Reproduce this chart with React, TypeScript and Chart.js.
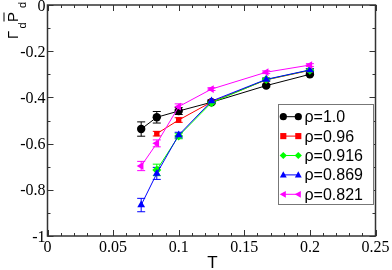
import React, { useEffect, useRef } from 'react';
import { Chart, registerables } from 'chart.js';

Chart.register(...registerables);

// ---- data ----
const temps = [0.0714, 0.0833, 0.1, 0.125, 0.1667, 0.2];

const rho100 = [-0.537, -0.486, -0.459, -0.421, -0.349, -0.3];
const rho100Err = [0.031, 0.025, 0.015, 0.006, 0.006, 0.006];

const rho096 = [null, -0.557, -0.498, -0.42, -0.324, -0.283];
const rho096Err = [0, 0.01, 0.01, 0.006, 0.006, 0.006];

const rho0916 = [null, -0.714, -0.567, -0.423, -0.323, -0.282];
const rho0916Err = [0, 0.025, 0.012, 0.006, 0.006, 0.006];

const rho0869 = [-0.866, -0.729, -0.563, -0.416, -0.322, -0.281];
const rho0869Err = [0.029, 0.026, 0.012, 0.006, 0.006, 0.006];

const rho0821 = [-0.697, -0.599, -0.44, -0.364, -0.291, -0.26];
const rho0821Err = [0.02, 0.015, 0.012, 0.006, 0.006, 0.006];

const seriesLabels = ['ρ=1.0', 'ρ=0.96', 'ρ=0.916', 'ρ=0.869', 'ρ=0.821'];
const seriesColors = ['#000000', '#ff0000', '#00ff00', '#0000ff', '#ff00ff'];
const seriesStyles = ['circle', 'rect', 'rectRot', 'triangle', 'triangle'];
const seriesRotations = [0, 0, 0, 0, -90];

const xTickValues = [0, 0.05, 0.1, 0.15, 0.2, 0.25];
const xTickLabels = ['0', '0.05', '0.1', '0.15', '0.2', '0.25'];
const yTickValues = [0, -0.2, -0.4, -0.6, -0.8, -1];
const yTickLabels = ['0', '-0.2', '-0.4', '-0.6', '-0.8', '-1'];

const allValues = [rho100, rho096, rho0916, rho0869, rho0821];
const allErrors = [rho100Err, rho096Err, rho0916Err, rho0869Err, rho0821Err];

const SERIF = "'Liberation Serif', 'Times New Roman', serif";
const SANS = "'Liberation Sans', Arial, sans-serif";

function drawMarker(ctx: CanvasRenderingContext2D, style: string, rot: number, x: number, y: number, r: number, color: string) {
  ctx.save();
  ctx.translate(x, y);
  ctx.rotate((rot * Math.PI) / 180);
  ctx.fillStyle = color;
  ctx.beginPath();
  if (style === 'circle') {
    ctx.arc(0, 0, r, 0, Math.PI * 2);
  } else if (style === 'rect') {
    ctx.rect(-r * 0.85, -r * 0.85, r * 1.7, r * 1.7);
  } else if (style === 'rectRot') {
    ctx.moveTo(0, -r);
    ctx.lineTo(r, 0);
    ctx.lineTo(0, r);
    ctx.lineTo(-r, 0);
    ctx.closePath();
  } else if (style === 'triangle') {
    ctx.moveTo(0, -r);
    ctx.lineTo(r * 0.95, r * 0.7);
    ctx.lineTo(-r * 0.95, r * 0.7);
    ctx.closePath();
  }
  ctx.fill();
  ctx.restore();
}

const framePlugin = {
  id: 'frame',
  beforeDatasetsDraw(chart: any) {
    const ctx: CanvasRenderingContext2D = chart.ctx;
    const xs = chart.scales.x;
    const ys = chart.scales.y;
    // error bars
    ctx.save();
    ctx.lineWidth = 1;
    allValues.forEach((vals, si) => {
      ctx.strokeStyle = seriesColors[si];
      vals.forEach((v, i) => {
        const e = allErrors[si][i];
        if (v === null || !e) return;
        const px = xs.getPixelForValue(temps[i]);
        const y1 = ys.getPixelForValue((v as number) + e);
        const y2 = ys.getPixelForValue((v as number) - e);
        ctx.beginPath();
        ctx.moveTo(px, y1);
        ctx.lineTo(px, y2);
        ctx.moveTo(px - 4, y1);
        ctx.lineTo(px + 4, y1);
        ctx.moveTo(px - 4, y2);
        ctx.lineTo(px + 4, y2);
        ctx.stroke();
      });
    });
    ctx.restore();
  },
  afterDraw(chart: any) {
    const ctx: CanvasRenderingContext2D = chart.ctx;
    const xs = chart.scales.x;
    const ys = chart.scales.y;
    const { left, right, top, bottom } = chart.chartArea;
    ctx.save();
    ctx.strokeStyle = '#333';
    ctx.lineWidth = 1.5;
    ctx.strokeRect(left, top, right - left, bottom - top);

    ctx.lineWidth = 1;
    // x ticks (inward), minor every 0.01
    for (let k = 0; k <= 25; k++) {
      const v = k / 100;
      const px = Math.round(xs.getPixelForValue(v)) + 0.5;
      const len = k % 5 === 0 ? 6 : 3;
      ctx.beginPath();
      ctx.moveTo(px, bottom);
      ctx.lineTo(px, bottom - len);
      ctx.moveTo(px, top);
      ctx.lineTo(px, top + len);
      ctx.stroke();
    }
    // y ticks, minor every 0.1
    for (let k = 0; k <= 10; k++) {
      const v = -k / 10;
      const py = Math.round(ys.getPixelForValue(v)) + 0.5;
      const len = k % 2 === 0 ? 6 : 3;
      ctx.beginPath();
      ctx.moveTo(left, py);
      ctx.lineTo(left + len, py);
      ctx.moveTo(right, py);
      ctx.lineTo(right - len, py);
      ctx.stroke();
    }

    // tick labels
    ctx.fillStyle = '#000';
    ctx.font = `16px ${SERIF}`;
    ctx.textAlign = 'center';
    ctx.textBaseline = 'alphabetic';
    xTickValues.forEach((v, i) => {
      ctx.fillText(xTickLabels[i], xs.getPixelForValue(v), bottom + 16);
    });
    ctx.textAlign = 'right';
    yTickValues.forEach((v, i) => {
      ctx.fillText(yTickLabels[i], left - 2, ys.getPixelForValue(v) + 5.5);
    });

    // x title
    ctx.font = `17px ${SANS}`;
    ctx.textAlign = 'center';
    ctx.fillText('T', 212.5, 268);

    // y title (rotated)
    ctx.save();
    ctx.translate(17.5, 39);
    ctx.rotate(-Math.PI / 2);
    ctx.textAlign = 'left';
    ctx.font = `15px ${SANS}`;
    ctx.fillText('Γ', 0, 0);
    ctx.font = `11px ${SANS}`;
    ctx.fillText('d', 10.5, 8.5);
    ctx.font = `15px ${SANS}`;
    ctx.fillText('P', 17, 0);
    ctx.lineWidth = 1;
    ctx.strokeStyle = '#000';
    ctx.beginPath();
    ctx.moveTo(17.5, -13.5);
    ctx.lineTo(26.5, -13.5);
    ctx.stroke();
    ctx.font = `11px ${SANS}`;
    ctx.fillText('d', 31, 8.5);
    ctx.restore();

    // legend
    ctx.strokeStyle = '#777';
    ctx.lineWidth = 1;
    ctx.fillStyle = '#fff';
    ctx.fillRect(278.5, 104.5, 95, 100);
    ctx.strokeRect(278.5, 104.5, 95, 100);
    seriesLabels.forEach((lab, i) => {
      const cy = 116.7 + i * 19.4;
      ctx.strokeStyle = seriesColors[i];
      ctx.beginPath();
      ctx.moveTo(283.3, cy);
      ctx.lineTo(298.3, cy);
      ctx.stroke();
      drawMarker(ctx, seriesStyles[i], seriesRotations[i], 283.3, cy, 3.6, seriesColors[i]);
      drawMarker(ctx, seriesStyles[i], seriesRotations[i], 298.3, cy, 3.6, seriesColors[i]);
      ctx.fillStyle = '#000';
      ctx.font = `16px ${SANS}`;
      ctx.textAlign = 'left';
      ctx.fillText(lab, 304.5, cy + 5.5);
    });
    ctx.restore();
  },
};

export default function App() {
  const canvasRef = useRef<HTMLCanvasElement | null>(null);

  useEffect(() => {
    document.body.style.margin = '0';
    const canvas = canvasRef.current;
    if (!canvas) return;
    const datasets = allValues.map((vals, si) => ({
      label: seriesLabels[si],
      data: temps.map((t, i) => ({ x: t, y: vals[i] })).filter((p) => p.y !== null),
      borderColor: seriesColors[si],
      backgroundColor: seriesColors[si],
      borderWidth: 1,
      pointStyle: seriesStyles[si] as any,
      pointRotation: seriesRotations[si],
      pointRadius: si === 0 ? 4.2 : si === 1 ? 3.8 : 4.5,
      pointBorderWidth: 0,
      showLine: true,
      fill: false,
      order: 5 - si,
    }));
    const chart = new Chart(canvas, {
      type: 'scatter',
      data: { datasets },
      options: {
        animation: false,
        responsive: false,
        maintainAspectRatio: false,
        devicePixelRatio: 1,
        layout: { padding: { left: 47.5, top: 5, right: 16.5, bottom: 34 } },
        plugins: { legend: { display: false }, tooltip: { enabled: false } },
        scales: {
          x: { type: 'linear', min: 0, max: 0.25, display: false },
          y: { type: 'linear', min: -1, max: 0, display: false },
        },
      },
      plugins: [framePlugin],
    });
    return () => chart.destroy();
  }, []);

  return (
    <div style={{ position: 'fixed', left: 0, top: 0, width: 392, height: 270, background: '#fff' }}>
      <canvas ref={canvasRef} width={392} height={270} style={{ width: 392, height: 270, display: 'block' }} />
    </div>
  );
}
